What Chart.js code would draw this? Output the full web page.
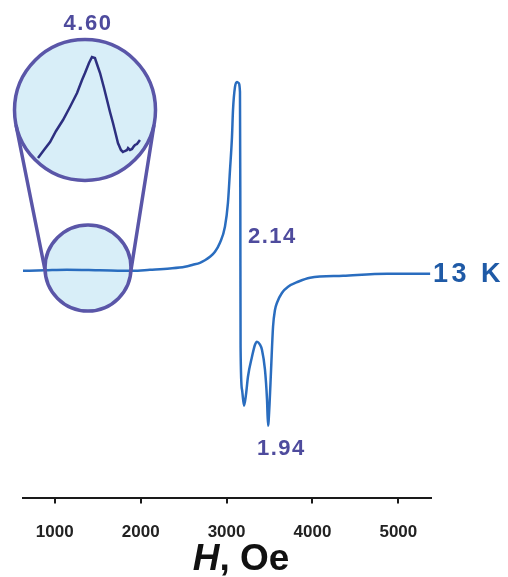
<!DOCTYPE html>
<html>
<head>
<meta charset="utf-8">
<script src="https://cdn.jsdelivr.net/npm/chart.js@4.4.1/dist/chart.umd.min.js"></script>
<style>
  body { margin: 0; background: #fff; }
  #wrap { position: relative; width: 508px; height: 577px; }
  #inset { position: absolute; left: 13px; top: 37px; }
</style>
</head>
<body>
<div id="wrap">
  <canvas id="eprChart" width="508" height="577"></canvas>
  <canvas id="inset" width="145" height="147"></canvas>
</div>
<script>
// main spectrum, field in Oe, signal in arbitrary units
const fieldH = [627, 883, 1140, 1524, 1909, 2107, 2340, 2515, 2608, 2690, 2748, 2807, 2865, 2923, 2981, 3016, 3040, 3063, 3075, 3098, 3121, 3139, 3156, 3160, 3163, 3180, 3203, 3226, 3249, 3296, 3331, 3354, 3389, 3412, 3447, 3471, 3483, 3500, 3518, 3541, 3564, 3587, 3646, 3716, 3832, 3972, 4357, 4869, 5370];
const signal = [-1, -0.5, 0, -0.5, -1, 0, 1.3, 3, 5, 7, 9.5, 13, 18, 27, 43, 67, 100, 133, 160, 183, 188, 187, 178, 70, -77, -120, -136, -125, -107, -87, -75, -72, -75, -80, -100, -130, -156, -135, -100, -57, -40, -33, -23, -17, -12, -8, -6, -4, -4];

// magnified g = 4.60 feature shown in the big circle
const insetH = [1054, 1096, 1139, 1181, 1230, 1279, 1329, 1364, 1385, 1413, 1434, 1455, 1469, 1491, 1519, 1540, 1561, 1582, 1603, 1617, 1638, 1652, 1666, 1681, 1688, 1702, 1716, 1730, 1737, 1751, 1772];
const insetSignal = [25, 33, 41, 52, 63, 76, 90, 103, 110, 120, 126, 125, 119, 110, 95, 83, 71, 60, 48, 40, 33, 31, 32, 33, 35, 33, 34, 37, 38, 39, 43];

const tickValues = [1000, 2000, 3000, 4000, 5000];
const gLabels = ["4.60", "2.14", "1.94"];
const tempLabel = "13 K";

const FONT = "'Liberation Sans', Arial, sans-serif";
const lineBlue = "#2a6dbf";
const purple = "#5a56a8";
const labelPurple = "#4e4b9d";

const lens = {
  big: { x: 85, y: 110, r: 70.5 },
  small: { x: 88, y: 268, r: 43 }
};

const decorations = {
  id: "decorations",
  beforeDatasetsDraw(chart) {
    const ctx = chart.ctx;
    ctx.save();
    ctx.fillStyle = "#d8eef8";
    [lens.big, lens.small].forEach(c => {
      ctx.beginPath();
      ctx.arc(c.x, c.y, c.r, 0, Math.PI * 2);
      ctx.fill();
    });
    ctx.restore();
  },
  afterDatasetsDraw(chart) {
    const ctx = chart.ctx;
    const x = chart.scales.x;
    ctx.save();
    ctx.strokeStyle = purple;
    ctx.lineWidth = 3.5;
    [lens.big, lens.small].forEach(c => {
      ctx.beginPath();
      ctx.arc(c.x, c.y, c.r, 0, Math.PI * 2);
      ctx.stroke();
    });
    ctx.beginPath();
    ctx.moveTo(16, 125);
    ctx.lineTo(45, 270);
    ctx.moveTo(154, 125);
    ctx.lineTo(131, 270);
    ctx.stroke();

    ctx.fillStyle = labelPurple;
    ctx.font = "bold 22px " + FONT;
    ctx.letterSpacing = "1.5px";
    ctx.textAlign = "center";
    ctx.fillText(gLabels[0], 88, 30);
    ctx.textAlign = "left";
    ctx.fillText(gLabels[1], 248, 243);
    ctx.fillText(gLabels[2], 257, 455);

    ctx.fillStyle = "#1f5aa6";
    ctx.font = "bold 27px " + FONT;
    ctx.letterSpacing = "3.5px";
    ctx.fillText(tempLabel, x.right + 2, 282);

    // axis title: italic H, upright Oe
    ctx.letterSpacing = "0px";
    ctx.fillStyle = "#111";
    const f1 = "italic bold 37px " + FONT;
    const f2 = "bold 37px " + FONT;
    ctx.font = f1;
    const w1 = ctx.measureText("H").width;
    ctx.font = f2;
    const w2 = ctx.measureText(", Oe").width;
    const left = 241 - (w1 + w2) / 2;
    ctx.font = f1;
    ctx.fillText("H", left, 570);
    ctx.font = f2;
    ctx.fillText(", Oe", left + w1, 570);
    ctx.restore();
  }
};

new Chart(document.getElementById("eprChart"), {
  type: "line",
  data: {
    labels: fieldH,
    datasets: [{
      data: fieldH.map((h, i) => ({ x: h, y: signal[i] })),
      borderColor: lineBlue,
      borderWidth: 2.5,
      pointRadius: 0,
      cubicInterpolationMode: "monotone",
      fill: false
    }]
  },
  options: {
    responsive: false,
    animation: false,
    layout: { padding: { left: 23, right: 77, top: 10, bottom: 15 } },
    plugins: { legend: { display: false }, tooltip: { enabled: false } },
    scales: {
      x: {
        type: "linear",
        min: 630,
        max: 5380,
        afterBuildTicks: s => { s.ticks = tickValues.map(v => ({ value: v })); },
        grid: { drawOnChartArea: false, drawTicks: true, tickLength: 6, color: "#1a1a1a", lineWidth: 2 },
        border: { display: true, color: "#1a1a1a", width: 2 },
        ticks: {
          padding: 19,
          color: "#222",
          font: { family: FONT, size: 17, weight: "bold" },
          maxRotation: 0,
          callback: v => String(v)
        }
      },
      y: { display: false, min: -228, max: 260 }
    }
  },
  plugins: [decorations]
});

new Chart(document.getElementById("inset"), {
  type: "line",
  data: {
    labels: insetH,
    datasets: [{
      data: insetH.map((h, i) => ({ x: h, y: insetSignal[i] })),
      borderColor: "#2d2f80",
      borderWidth: 2.5,
      pointRadius: 0,
      tension: 0,
      fill: false
    }]
  },
  options: {
    responsive: false,
    animation: false,
    layout: { padding: 0 },
    plugins: { legend: { display: false }, tooltip: { enabled: false } },
    scales: {
      x: { type: "linear", display: false, min: 878, max: 1899 },
      y: { display: false, min: -1, max: 146 }
    }
  }
});
</script>
</body>
</html>
